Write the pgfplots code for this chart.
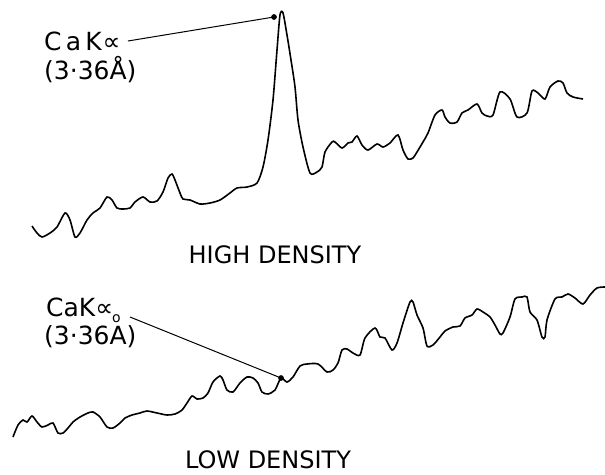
\documentclass[border=0pt]{standalone}
\usepackage{pgfplots}
\pgfplotsset{compat=1.18}
\usepackage{fontspec}
\setmainfont{DejaVu Sans}
\begin{document}
\begin{tikzpicture}
\begin{axis}[width=605pt,height=474pt,scale only axis,
  xmin=0,xmax=605,ymin=0,ymax=474,y dir=reverse,hide axis,clip=false]
% HIGH DENSITY trace
\addplot[black,line width=1.6pt,smooth,tension=0.45] coordinates {
(32,226)(37,233)(42,237)(50,233)(57,227)(65,213)(70,220)(75,237)(80,233)
(87,220)(93,213)(100,208)(107,197)(112,200)(117,208)(123,209)(130,208)
(135,202)(143,197)(150,202)(157,201)(163,192)(168,178)(172,174)(175,180)
(180,193)(183,199)(190,200)(200,204)(210,203)(220,200)(230,193)(237,188)
(247,187)(257,183)(263,167)(268,140)(273,100)(277,50)(280,15)(283,13)
(287,35)(291,60)(295,87)(298,120)(303,147)(310,173)(317,172)(322,167)
(325,152)(332,142)(335,142)(342,148)(348,143)(352,142)(357,136)(362,145)
(368,150)(377,144)(383,147)(390,143)(398,135)(403,150)(408,159)(413,158)
(417,152)(423,142)(428,133)(435,115)(442,110)(445,117)(450,123)(457,122)
(462,113)(468,110)(477,104)(482,113)(487,116)(493,115)(500,92)(510,99)
(517,117)(527,113)(532,91)(538,93)(545,99)(550,87)(558,81)(563,83)
(567,93)(573,97)(583,99)
};
% LOW DENSITY trace
\addplot[black,line width=1.6pt,smooth,tension=0.45] coordinates {
(13,437)(18,425)(23,420)(27,422)(32,416)(37,422)(42,427)(48,425)(53,423)
(58,433)(63,433)(68,428)(73,422)(80,417)(88,413)(93,412)(100,417)(107,427)
(113,428)(120,423)(125,418)(132,415)(140,413)(147,411)(157,413)(167,415)
(175,414)(182,410)(187,403)(192,396)(197,399)(203,398)(208,393)(213,382)
(220,376)(223,380)(227,390)(233,392)(240,383)(247,377)(253,378)(258,383)
(262,392)(268,394)(275,390)(281,378)(287,382)(293,377)(300,366)(307,364)
(318,364)(327,372)(333,370)(338,363)(342,350)(347,349)(353,353)(360,355)
(365,338)(375,328)(380,337)(385,338)(392,350)(397,343)(403,323)(410,302)
(413,302)(417,315)(423,328)(427,346)(433,345)(440,337)(445,331)(453,327)
(460,326)(465,318)(472,315)(477,309)(483,312)(490,317)(495,325)(500,334)
(503,333)(510,317)(515,299)(522,297)(527,297)(530,312)(537,320)(542,337)
(545,337)(547,320)(555,299)(562,297)(568,294)(575,298)(583,304)(590,295)
(597,288)(605,287)
};
% leader lines and dots
\addplot[black,line width=1pt] coordinates {(128,41)(274,17)};
\addplot[black,line width=1pt] coordinates {(130,317)(281,378)};
\addplot[black,only marks,mark=*,mark size=2.6pt] coordinates {(274,17)(281,378)};
% labels
\node[anchor=base west,inner sep=0pt,font=\fontsize{25}{30}\selectfont] at (axis cs:44,50)
  {C\,a\,K\kern1pt∝};
\node[anchor=base west,inner sep=0pt,font=\fontsize{25}{30}\selectfont] at (axis cs:44,79)
  {(3·36Å)};
\node[anchor=base west,inner sep=0pt,font=\fontsize{25}{30}\selectfont] at (axis cs:46,316)
  {CaK∝\kern-1pt\raisebox{-0.45ex}{\fontsize{14}{16}\selectfont o}};
\node[anchor=base west,inner sep=0pt,font=\fontsize{25}{30}\selectfont] at (axis cs:44,344)
  {(3·36A)};
\node[inner sep=0pt,font=\fontsize{24}{28}\selectfont] at (axis cs:275,255) {HIGH DENSITY};
\node[inner sep=0pt,font=\fontsize{24}{28}\selectfont] at (axis cs:268,460) {LOW DENSITY};
\end{axis}
\pgfresetboundingbox
\path (current axis.south west) rectangle (current axis.north east);
\end{tikzpicture}
\end{document}
